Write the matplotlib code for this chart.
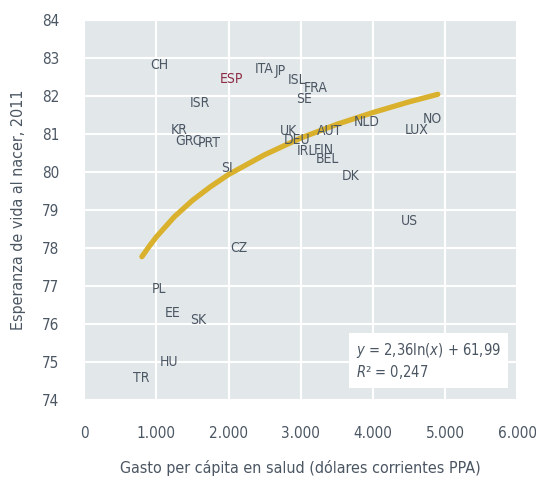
import matplotlib.pyplot as plt
import matplotlib.ticker as mticker

# country labels: health spending per capita (PPP $) vs life expectancy 2011
countries = ["CH", "ESP", "ITA", "JP", "ISL", "FRA", "SE", "ISR", "KR", "GRC", "PRT",
             "UK", "DEU", "AUT", "NLD", "NO", "LUX", "IRL", "FIN", "BEL", "DK", "SI",
             "US", "CZ", "PL", "EE", "SK", "HU", "TR"]
spending = [1040, 2040, 2500, 2720, 2950, 3210, 3040, 1610, 1310, 1440, 1730,
            2830, 2950, 3400, 3910, 4830, 4600, 3080, 3320, 3370, 3690, 1980,
            4510, 2140, 1040, 1230, 1580, 1180, 790]
life_exp = [82.82, 82.45, 82.71, 82.66, 82.42, 82.21, 81.92, 81.82, 81.1, 80.82, 80.76,
            81.08, 80.84, 81.08, 81.32, 81.4, 81.11, 80.55, 80.58, 80.34, 79.89, 80.11,
            78.71, 78.0, 76.92, 76.3, 76.11, 75.0, 74.58]

# trend line points
trend_x = [800, 900, 1000, 1250, 1500, 1750, 2000, 2500, 3000, 3500, 4000, 4500, 4900]
trend_y = [77.77, 78.04, 78.29, 78.82, 79.25, 79.61, 79.93, 80.45, 80.89, 81.25, 81.56, 81.84, 82.04]

txt = "#4b5663"
plt.rcParams['font.family'] = ['DejaVu Sans']
plt.rcParams['font.stretch'] = 'condensed'
plt.rcParams['mathtext.fontset'] = 'custom'
plt.rcParams['mathtext.it'] = 'DejaVu Sans:italic:stretch=condensed'
plt.rcParams['mathtext.rm'] = 'DejaVu Sans:stretch=condensed'

fig = plt.figure(figsize=(5.36, 4.82), dpi=100)
ax = fig.add_axes([0.157, 0.170, 0.808, 0.789])
ax.set_facecolor("#e2e7ea")
ax.set_xlim(0, 6000)
ax.set_ylim(74, 84)
ax.set_xticks(range(0, 6001, 1000))
ax.set_yticks(range(74, 85))
ax.xaxis.set_major_formatter(mticker.FuncFormatter(lambda v, p: f"{int(v):,}".replace(",", ".")))
ax.grid(True, color="white", linewidth=1.5)
ax.set_axisbelow(True)
for s in ax.spines.values():
    s.set_visible(False)
ax.tick_params(length=0, labelsize=11, colors=txt)
ax.tick_params(axis="x", pad=19)
ax.tick_params(axis="y", pad=18)

ax.plot(trend_x, trend_y, color="#d9b12c", linewidth=3.8, solid_capstyle="round", zorder=2)

for c, x, y in zip(countries, spending, life_exp):
    col = "#8c2c45" if c == "ESP" else txt
    ax.text(x, y, c, ha="center", va="center", fontsize=10, color=col, zorder=3)

ax.text(3760, 75.03, "$y$ = 2,36ln($x$) + 61,99\n$R$² = 0,247", fontsize=10.5, color=txt,
        ha="left", va="center", linespacing=1.2, zorder=4,
        bbox=dict(facecolor="white", edgecolor="none", pad=5))

ax.set_xlabel("Gasto per cápita en salud (dólares corrientes PPA)", fontsize=11.5, color=txt, labelpad=13)
ax.set_ylabel("Esperanza de vida al nacer, 2011", fontsize=11.5, color=txt, labelpad=11)

fig.savefig("out.png", dpi=100)
